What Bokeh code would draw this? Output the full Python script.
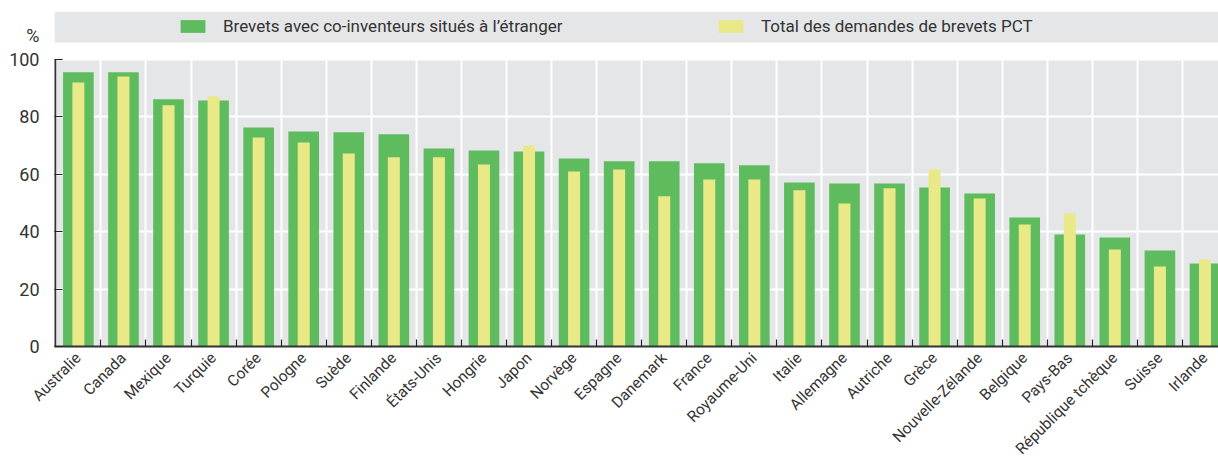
from bokeh.plotting import figure
from bokeh.models import (Range1d, FixedTicker, BoxAnnotation, Legend, LegendItem,
                          ColumnDataSource)
from bokeh.embed import file_html
from bokeh.resources import INLINE
import math

categories = ["Australie", "Canada", "Mexique", "Turquie", "Corée", "Pologne", "Suède",
              "Finlande", "États-Unis", "Hongrie", "Japon", "Norvège", "Espagne", "Danemark",
              "France", "Royaume-Uni", "Italie", "Allemagne", "Autriche", "Grèce",
              "Nouvelle-Zélande", "Belgique", "Pays-Bas", "République tchèque", "Suisse", "Irlande"]
co_inventeurs = [95.5, 95.5, 86.1, 85.7, 76.3, 74.9, 74.6, 73.9, 69.0, 68.3, 67.9, 65.5, 64.5,
                 64.5, 63.8, 63.1, 57.1, 56.8, 56.8, 55.4, 53.3, 44.9, 39.0, 38.0, 33.4, 28.9]
total_pct = [92.0, 94.1, 84.0, 87.1, 72.8, 71.1, 67.2, 65.9, 65.9, 63.4, 70.0, 61.0, 61.7,
             52.3, 58.2, 58.2, 54.4, 49.8, 55.1, 61.7, 51.6, 42.5, 46.3, 33.8, 27.9, 30.3]
y_ticks = [0, 20, 40, 60, 80, 100]
unit_label = "%"
series_names = ["Brevets avec co-inventeurs situés à l’étranger", "Total des demandes de brevets PCT"]

GREEN = "#5ebc5e"
YELLOW = "#e9e987"
GRAY = "#e5e6e8"
TXT = "#333333"
FONT = "Roboto"

n = len(categories)
centers = [i + 0.5 for i in range(n)]
bounds = [float(i) for i in range(1, n)]

Y_TOP = 116.7      # frame top (legend strip area)
UNIT_POS = 108.5   # vertical position of the "%" unit label
STRIP = (105.9, Y_TOP)
X0 = -0.03

src = ColumnDataSource(dict(x=centers, g=co_inventeurs, y=total_pct))

p = figure(width=1218, height=468, output_backend="svg", toolbar_location=None,
           x_range=Range1d(X0, 25.8), y_range=Range1d(0, Y_TOP),
           min_border_left=54, min_border_right=0, min_border_top=11, min_border_bottom=122,
           background_fill_color="white", border_fill_color="white", outline_line_color=None)

# plot background (0-100)
p.add_layout(BoxAnnotation(bottom=0, top=100, fill_color=GRAY, fill_alpha=1,
                           line_color=None, level="image"))

# grid
p.ygrid.ticker = FixedTicker(ticks=y_ticks)
p.ygrid.grid_line_color = "white"
p.ygrid.grid_line_width = 2
p.xgrid.ticker = FixedTicker(ticks=bounds)
p.xgrid.grid_line_color = "white"
p.xgrid.grid_line_width = 2

gbar = p.vbar(x="x", top="g", width=0.68, bottom=0, source=src, fill_color=GREEN, line_color=None)
ybar = p.vbar(x="x", top="y", width=0.266, bottom=0, source=src, fill_color=YELLOW, line_color=None)

# y axis line (0-100 only)
p.segment(x0=[X0], y0=[0], x1=[X0], y1=[100], line_color="#333333", line_width=3.4)

# legend strip
p.add_layout(BoxAnnotation(bottom=STRIP[0], top=STRIP[1], fill_color=GRAY, fill_alpha=1,
                           line_color=None))

for item_r, name, vx in [(gbar, series_names[0], 123), (ybar, series_names[1], 661)]:
    lg = Legend(items=[LegendItem(label=name, renderers=[item_r])], location=(vx, 310),
                orientation="horizontal", padding=0, margin=0, border_line_color=None,
                background_fill_alpha=0, glyph_width=31, glyph_height=16, label_height=16,
                label_standoff=15, label_text_font=FONT, label_text_font_size="17px",
                label_text_color=TXT)
    p.add_layout(lg)

# x axis
xa = p.xaxis[0]
xa.ticker = FixedTicker(ticks=centers, minor_ticks=bounds)
xa.major_label_overrides = {c: name for c, name in zip(centers, categories)}
xa.major_label_orientation = math.pi / 4
xa.major_tick_line_color = None
xa.major_tick_in = 0
xa.major_tick_out = 0
xa.minor_tick_in = 7
xa.minor_tick_out = 0
xa.minor_tick_line_color = "#222222"
xa.minor_tick_line_width = 1.2
xa.axis_line_color = "#333333"
xa.axis_line_width = 2
xa.major_label_text_font = FONT
xa.major_label_text_font_size = "15.5px"
xa.major_label_text_color = TXT
xa.major_label_standoff = 9

# y axis (labels 0-100 plus the unit label on top)
ya = p.yaxis[0]
ya.ticker = FixedTicker(ticks=y_ticks + [UNIT_POS], minor_ticks=y_ticks)
ya.major_label_overrides = {UNIT_POS: unit_label}
ya.major_tick_line_color = None
ya.major_tick_in = 0
ya.major_tick_out = 0
ya.minor_tick_in = 8
ya.minor_tick_out = 0
ya.minor_tick_line_color = "#222222"
ya.minor_tick_line_width = 1.2
ya.axis_line_color = None
ya.major_label_text_font = FONT
ya.major_label_text_font_size = "18px"
ya.major_label_text_color = TXT
ya.major_label_standoff = 15

open("out.html", "w").write(file_html(p, INLINE))
